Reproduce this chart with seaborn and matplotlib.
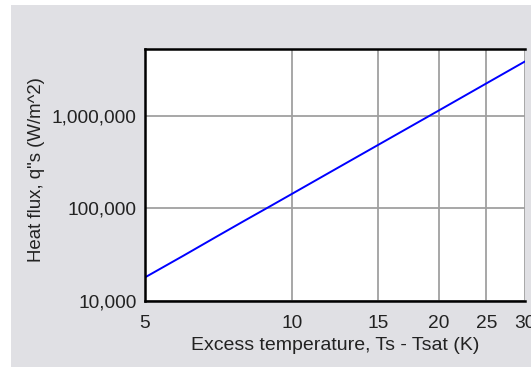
import numpy as np
import pandas as pd
import matplotlib
matplotlib.use("Agg")
import matplotlib.pyplot as plt
import matplotlib.ticker as mticker
from matplotlib.patches import Rectangle
import seaborn as sns

# values (log-log straight line)
excess_temp = [5, 6, 7, 8, 9, 10, 12, 15, 20, 25, 30]
heat_flux = [18000, 31000, 49500, 74000, 105000, 144000, 249000, 486000,
             1150000, 2250000, 3890000]

x_ticks = [5, 10, 15, 20, 25, 30]
y_ticks = [10000, 100000, 1000000]
y_minor = [32000, 56000, 79000, 320000, 560000, 790000]

df = pd.DataFrame({"dT": excess_temp, "q": heat_flux})

sns.set_style("white")
plt.rcParams["font.family"] = ["Liberation Sans", "DejaVu Sans"]

fig = plt.figure(figsize=(5.31, 3.67), dpi=100)
fig.patch.set_facecolor("white")
# grey panel behind the chart
fig.patches.append(Rectangle((11 / 531, 0), 1, 1 - 5 / 367, transform=fig.transFigure,
                             facecolor="#e0e0e4", edgecolor="none", zorder=-5))

ax = fig.add_axes([145 / 531, 1 - 301 / 367, 380 / 531, 252 / 367])
ax.set_facecolor("white")

sns.lineplot(data=df, x="dT", y="q", ax=ax, color="#0000ff", linewidth=1.4)

ax.set_xscale("log")
ax.set_yscale("log")
ax.set_xlim(5, 30)
ax.set_ylim(10000, 5300000)

ax.xaxis.set_major_locator(mticker.FixedLocator(x_ticks))
ax.xaxis.set_minor_locator(mticker.NullLocator())
ax.xaxis.set_major_formatter(mticker.FuncFormatter(lambda v, p: f"{v:g}"))
ax.yaxis.set_major_locator(mticker.FixedLocator(y_ticks))
ax.yaxis.set_minor_locator(mticker.FixedLocator(y_minor))
ax.yaxis.set_major_formatter(mticker.FuncFormatter(lambda v, p: f"{int(v):,}"))
ax.yaxis.set_minor_formatter(mticker.NullFormatter())

ax.grid(True, which="major", color="#a0a0a0", linewidth=1.3)
ax.tick_params(which="major", length=6, width=1, color="#909090", pad=0,
               labelsize=13.8, labelcolor="#222222")
ax.tick_params(axis="x", which="major", pad=4)
ax.tick_params(which="minor", axis="y", length=3, width=1, color="#909090")

for side in ["left", "bottom", "top"]:
    ax.spines[side].set_color("black")
    ax.spines[side].set_linewidth(1.8)
ax.spines["right"].set_visible(False)

ax.set_xlabel("Excess temperature, Ts - Tsat (K)", fontsize=14, color="#222222", labelpad=4)
ax.set_ylabel("Heat flux, q\"s (W/m^2)", fontsize=13.4, color="#222222")
ax.yaxis.set_label_coords(-0.262, 0.52)

fig.savefig("out.png", dpi=100)
